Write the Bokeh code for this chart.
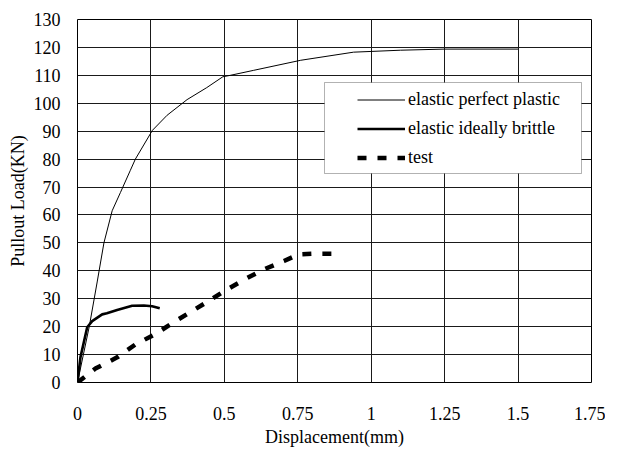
from bokeh.plotting import figure
from bokeh.models import Range1d, FixedTicker, CustomJSTickFormatter, BoxAnnotation
from bokeh.embed import file_html
from bokeh.resources import INLINE

# ---- data ----
epp_x = [0, 0.04, 0.067, 0.09, 0.118, 0.146, 0.18, 0.197, 0.255, 0.305, 0.373, 0.44, 0.495, 0.52, 0.6, 0.76, 0.94, 1.1, 1.25, 1.5]
epp_y = [0, 20, 36, 50, 61.5, 68, 76, 80, 90.3, 95.7, 101.3, 105.6, 109.5, 110, 111.8, 115.4, 118.3, 119, 119.4, 119.4]

eib_x = [0, 0.01, 0.033, 0.05, 0.084, 0.1, 0.135, 0.186, 0.226, 0.254, 0.28]
eib_y = [0, 9, 19.8, 22, 24.4, 24.8, 26, 27.5, 27.6, 27.3, 26.6]

test_x = [0, 0.061, 0.135, 0.197, 0.266, 0.328, 0.39, 0.453, 0.507, 0.572, 0.634, 0.703, 0.754, 0.80, 0.87]
test_y = [0, 5, 9, 13.6, 17.4, 21.6, 25.6, 29.6, 33.2, 37.1, 40.5, 43.5, 45.9, 46.1, 46.1]

x_ticks = [0, 0.25, 0.5, 0.75, 1, 1.25, 1.5, 1.75]
y_ticks = list(range(0, 131, 10))

series_names = ["elastic perfect plastic", "elastic ideally brittle", "test"]

FONT = "Liberation Serif"

p = figure(width=605, height=450, output_backend="svg", toolbar_location=None,
           x_range=Range1d(0, 1.75), y_range=Range1d(0, 130),
           min_border_left=77, min_border_right=14, min_border_top=19, min_border_bottom=68,
           x_axis_label="Displacement(mm)", y_axis_label="Pullout Load(KN)")

p.background_fill_color = "white"
p.border_fill_color = "white"
p.outline_line_color = "black"
p.outline_line_width = 1

p.xaxis.ticker = FixedTicker(ticks=x_ticks)
p.yaxis.ticker = FixedTicker(ticks=y_ticks)
p.xaxis.formatter = CustomJSTickFormatter(code="return tick.toString();")

for ax in (p.xaxis, p.yaxis):
    ax.axis_line_color = None
    ax.major_tick_line_color = None
    ax.minor_tick_line_color = None
    ax.major_label_text_font = FONT
    ax.major_label_text_font_size = "18px"
    ax.major_label_text_color = "black"
    ax.axis_label_text_font = FONT
    ax.axis_label_text_font_size = "18px"
    ax.axis_label_text_font_style = "normal"
    ax.axis_label_text_color = "black"

p.xaxis.major_label_standoff = 18
p.xaxis.axis_label_standoff = 4
p.yaxis.major_label_standoff = 11
p.yaxis.axis_label_standoff = 3

p.xgrid.ticker = FixedTicker(ticks=x_ticks)
p.ygrid.ticker = FixedTicker(ticks=y_ticks)
for g in (p.xgrid, p.ygrid):
    g.grid_line_color = "#1a1a1a"
    g.grid_line_width = 1

p.line(epp_x, epp_y, line_color="black", line_width=1, legend_label=series_names[0])
p.line(eib_x, eib_y, line_color="black", line_width=2.6, legend_label=series_names[1])
p.line(test_x, test_y, line_color="black", line_width=4.5, line_dash="9 11", legend_label=series_names[2])

box = BoxAnnotation(left=247, right=504, bottom=209, top=300,
                    left_units="screen", right_units="screen", bottom_units="screen", top_units="screen",
                    fill_color="white", fill_alpha=1.0, line_color="black", line_width=1)
p.add_layout(box)

leg = p.legend[0]
p.center.remove(leg)
p.add_layout(leg)
leg.location = (280, 210)
leg.border_line_alpha = 0
leg.background_fill_alpha = 0
leg.padding = 0
leg.margin = 0
leg.spacing = 0
leg.glyph_width = 48
leg.glyph_height = 29
leg.label_height = 29
leg.label_standoff = 3
leg.label_text_font = FONT
leg.label_text_font_size = "18px"
leg.label_text_color = "black"

open("out.html", "w").write(file_html(p, INLINE))
